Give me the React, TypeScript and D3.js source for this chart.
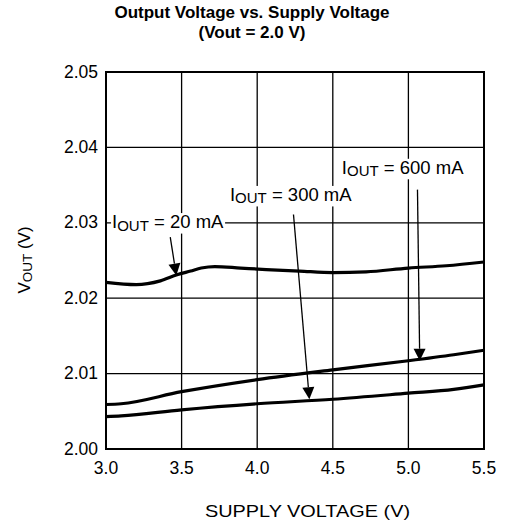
import React, { useEffect, useRef } from "react";
import * as d3 from "d3";

const title1 = "Output Voltage vs. Supply Voltage";
const title2 = "(Vout = 2.0 V)";
const xTicks = [3.0, 3.5, 4.0, 4.5, 5.0, 5.5];
const yTicks = [2.0, 2.01, 2.02, 2.03, 2.04, 2.05];

const x20 = [3.0, 3.2, 3.36, 3.47, 3.56, 3.63, 3.72, 3.89, 4.06, 4.28, 4.5, 4.72, 5.0, 5.25, 5.5];
const y20 = [2.0221, 2.0218, 2.0223, 2.0231, 2.0236, 2.024, 2.0242, 2.024, 2.0238, 2.0236, 2.0234, 2.0235, 2.024, 2.0243, 2.0248];

const xLow = [3.0, 3.1, 3.5, 4.0, 4.5, 5.0, 5.3, 5.5];
const y600 = [2.0059, 2.006, 2.0076, 2.0092, 2.0105, 2.0117, 2.0125, 2.0131];
const y300 = [2.0043, 2.0044, 2.0052, 2.006, 2.0066, 2.0074, 2.0079, 2.0085];

// annotations: label current, text anchor (data), arrow start (data), arrow tip (data)
const annoLabels = ["20 mA", "300 mA", "600 mA"];
const annoText: [number, number][] = [[3.04, 2.0293], [3.82, 2.0329], [4.56, 2.0365]];
const annoFrom: [number, number][] = [[3.425, 2.0281], [4.24, 2.0311], [5.06, 2.0344]];
const annoTo: [number, number][] = [[3.465, 2.0230], [4.345, 2.0066], [5.075, 2.0117]];

const FONT = "'Liberation Sans', Arial, Helvetica, sans-serif";

export default function App() {
  const ref = useRef<SVGSVGElement>(null);
  useEffect(() => {
    const svg = d3.select(ref.current);
    svg.selectAll("*").remove();
    const L = 106, R = 484, T = 72, B = 449;
    const x = d3.scaleLinear().domain([3.0, 5.5]).range([L, R]);
    const y = d3.scaleLinear().domain([2.0, 2.05]).range([B, T]);

    const g = svg.append("g");
    // grid
    g.selectAll("line.vg").data(xTicks).join("line")
      .attr("x1", d => x(d)).attr("x2", d => x(d)).attr("y1", T).attr("y2", B)
      .attr("stroke", "#000").attr("stroke-width", 1.3);
    g.selectAll("line.hg").data(yTicks).join("line").attr("class", "hg")
      .attr("x1", L).attr("x2", R).attr("y1", d => y(d)).attr("y2", d => y(d))
      .attr("stroke", "#000").attr("stroke-width", 1.3);

    // curves
    const line = d3.line<[number, number]>().x(d => x(d[0])).y(d => y(d[1])).curve(d3.curveMonotoneX);
    const series: [number[], number[]][] = [[x20, y20], [xLow, y600], [xLow, y300]];
    series.forEach(([xs, ys]) => {
      g.append("path").attr("d", line(xs.map((v, i) => [v, ys[i]]))!)
        .attr("fill", "none").attr("stroke", "#000").attr("stroke-width", 3.2)
        .attr("stroke-linejoin", "round");
    });

    // annotations
    annoLabels.forEach((lab, i) => {
      const ag = g.append("g");
      const t = ag.append("text").attr("x", x(annoText[i][0])).attr("y", y(annoText[i][1]))
        .attr("font-family", FONT).attr("font-size", 18.5).attr("fill", "#000");
      t.append("tspan").text("I");
      t.append("tspan").attr("font-size", 15).attr("dy", 2.5).text("OUT");
      t.append("tspan").attr("dy", -2.5).text(" = " + lab);
      const bb = (t.node() as SVGTextElement).getBBox();
      ag.insert("rect", "text").attr("x", bb.x - 1).attr("y", bb.y + 2).attr("width", bb.width + 2)
        .attr("height", bb.height - 2).attr("fill", "#fff");
      const x0 = x(annoFrom[i][0]), y0 = y(annoFrom[i][1]);
      const x1 = x(annoTo[i][0]), y1 = y(annoTo[i][1]);
      const ang = Math.atan2(y1 - y0, x1 - x0);
      const hl = 12, hw = 6;
      const bx = x1 - hl * Math.cos(ang), by = y1 - hl * Math.sin(ang);
      ag.append("line").attr("x1", x0).attr("y1", y0).attr("x2", bx).attr("y2", by)
        .attr("stroke", "#000").attr("stroke-width", 1.3);
      const px = -Math.sin(ang), py = Math.cos(ang);
      ag.append("polygon").attr("points", [
        [x1, y1], [bx + px * hw, by + py * hw], [bx - px * hw, by - py * hw]
      ].map(p => p.join(",")).join(" ")).attr("fill", "#000");
    });

    // frame
    g.append("rect").attr("x", L).attr("y", T).attr("width", R - L).attr("height", B - T)
      .attr("fill", "none").attr("stroke", "#000").attr("stroke-width", 2);

    // tick labels
    g.selectAll("text.xt").data(xTicks).join("text").attr("class", "xt")
      .attr("x", d => x(d)).attr("y", 474).attr("text-anchor", "middle")
      .attr("font-family", FONT).attr("font-size", 17.5).text(d => d.toFixed(1));
    g.selectAll("text.yt").data(yTicks).join("text").attr("class", "yt")
      .attr("x", 98).attr("y", d => y(d) + 5.5).attr("text-anchor", "end")
      .attr("font-family", FONT).attr("font-size", 17.5).text(d => d.toFixed(2));

    // axis titles
    g.append("text").attr("x", 307.5).attr("y", 517).attr("text-anchor", "middle")
      .attr("font-family", FONT).attr("font-size", 17).attr("textLength", 205)
      .attr("lengthAdjust", "spacingAndGlyphs").text("SUPPLY VOLTAGE (V)");
    const yl = g.append("text").attr("transform", "translate(30,260) rotate(-90)")
      .attr("text-anchor", "middle").attr("font-family", FONT).attr("font-size", 17);
    yl.append("tspan").text("V");
    yl.append("tspan").attr("font-size", 13.5).attr("dy", 2).text("OUT");
    yl.append("tspan").attr("dy", -2).text(" (V)");

    // title
    g.append("text").attr("x", 252).attr("y", 18).attr("text-anchor", "middle")
      .attr("font-family", FONT).attr("font-weight", "bold").attr("font-size", 17).text(title1);
    g.append("text").attr("x", 252).attr("y", 38).attr("text-anchor", "middle")
      .attr("font-family", FONT).attr("font-weight", "bold").attr("font-size", 17).text(title2);
  }, []);
  return (
    <svg ref={ref} width={506} height={529}
      style={{ position: "absolute", left: 0, top: 0, background: "#fff" }} />
  );
}
